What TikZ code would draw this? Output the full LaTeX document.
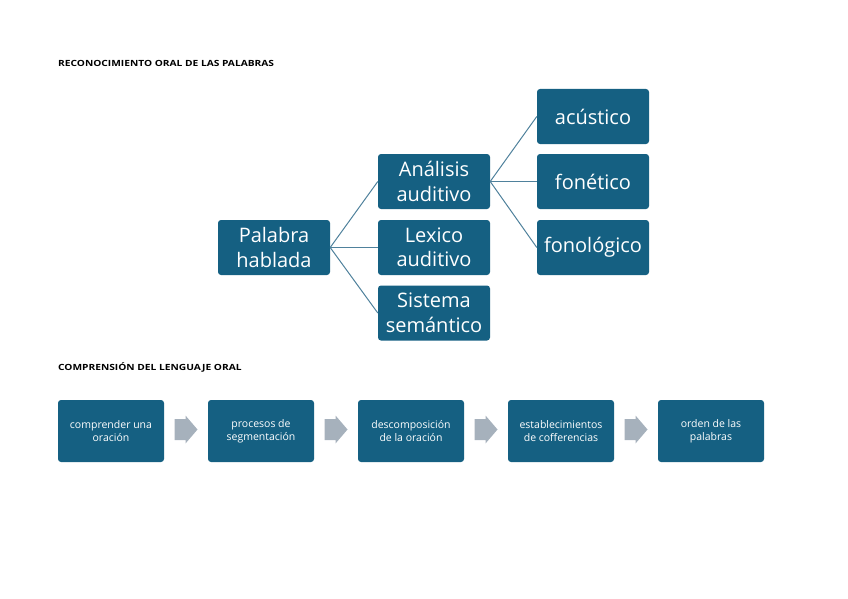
\documentclass[tikz,border=0pt]{standalone}
\usepackage{fontspec}
\setmainfont{Open Sans}
\newfontfamily\headfont[FakeStretch=1.2]{Open Sans}
\definecolor{boxblue}{HTML}{156082}
\definecolor{linkblue}{HTML}{4F819C}
\definecolor{arrowgray}{HTML}{A6B1BC}
\begin{document}
\begin{tikzpicture}[x=1pt,y=-1pt]
\tikzstyle{every node}+=[inner sep=0pt]
\tikzstyle{tree}=[fill=boxblue, rounded corners=3pt, text=white, minimum width=112pt, minimum height=55pt, align=center, font=\fontsize{20}{24.5}\selectfont]
\tikzstyle{flow}=[fill=boxblue, rounded corners=3pt, text=white, minimum width=106pt, minimum height=62pt, align=center, font=\fontsize{10.5}{13}\selectfont]
\tikzstyle{link}=[draw=linkblue, line width=1pt]
\tikzstyle{heading}=[anchor=west, font=\headfont\bfseries\fontsize{8.5}{10}\selectfont]
\useasboundingbox (0,0) rectangle (848,599);
\draw (58,63) node[heading] (title1) {RECONOCIMIENTO ORAL DE LAS PALABRAS};
\draw (274,247.5) node[tree] (palabra) {Palabra\\hablada};
\draw (434,181.5) node[tree] (analisis) {Análisis\\auditivo};
\draw (434,247.5) node[tree] (lexico) {Lexico\\auditivo};
\draw (434,313) node[tree] (sistema) {Sistema\\semántico};
\draw (593,116.5) node[tree] (acustico) {acústico};
\draw (593,181.5) node[tree] (fonetico) {fonético};
\draw (593,247.5) node[tree] (fonologico) {fonológico};
\draw [link] (palabra.east) -- (analisis.west);
\draw [link] (palabra.east) -- (lexico.west);
\draw [link] (palabra.east) -- (sistema.west);
\draw [link] (analisis.east) -- (acustico.west);
\draw [link] (analisis.east) -- (fonetico.west);
\draw [link] (analisis.east) -- (fonologico.west);
\draw (58,367) node[heading] (title2) {COMPRENSIÓN DEL LENGUAJE ORAL};
\draw (111,431) node[flow] (oracion) {comprender una\\oración};
\draw (261,431) node[flow] (segmentacion) {procesos de\\segmentación};
\draw (411,431) node[flow] (descomposicion) {descomposición\\de la oración};
\draw (561,431) node[flow] (coferencias) {establecimientos\\de cofferencias};
\draw (711,431) node[flow] (orden) {orden de las\\palabras};
\foreach \x in {174.5,324.5,474.5,624.5}
  \fill [arrowgray] (\x,419) -- (\x+11,419) -- (\x+11,415.5) -- (\x+23,429.5) -- (\x+11,443.5) -- (\x+11,440) -- (\x,440) -- cycle;
\end{tikzpicture}
\end{document}
